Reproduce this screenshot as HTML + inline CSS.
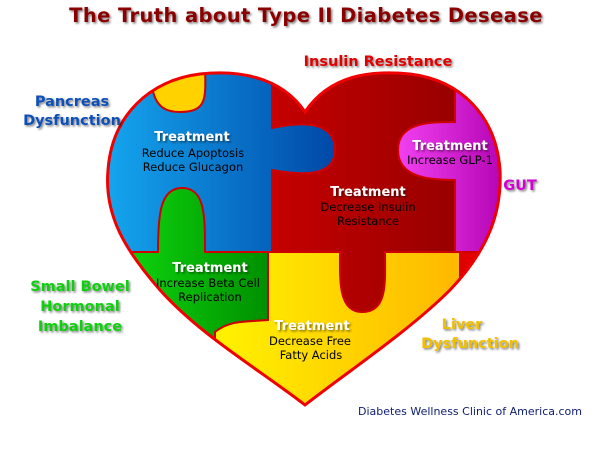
<!DOCTYPE html>
<html><head><style>
body{margin:0;width:600px;height:455px;background:#fff;overflow:hidden}
svg text{font-family:"DejaVu Sans",Verdana,sans-serif;font-weight:bold}
</style></head><body>
<svg width="600" height="455" viewBox="0 0 600 455">
<defs>
<clipPath id="h"><path id="hp" d="M305,112 C280,75 235,70 200,74 C150,80 112,115 108,170 C104,215 125,250 160,290 C200,335 260,370 305,405 C350,370 410,330 450,290 C490,248 502,210 500,170 C496,115 460,80 410,74 C370,70 330,75 305,112 Z"/></clipPath>
<linearGradient id="gb" x1="0" x2="1"><stop offset="0" stop-color="#15a8f0"/><stop offset="1" stop-color="#0048a8"/></linearGradient>
<linearGradient id="gr" x1="0" x2="1"><stop offset="0" stop-color="#f00000"/><stop offset="1" stop-color="#8a0000"/></linearGradient>
<linearGradient id="gm" x1="0" x2="1"><stop offset="0" stop-color="#f040f0"/><stop offset="1" stop-color="#b000b0"/></linearGradient>
<linearGradient id="gg" x1="0" x2="1"><stop offset="0" stop-color="#10e010"/><stop offset="1" stop-color="#009000"/></linearGradient>
<linearGradient id="gy" x1="0" x2="1"><stop offset="0" stop-color="#fff200"/><stop offset="1" stop-color="#ffb800"/></linearGradient>
<filter id="s"><feDropShadow dx="1.5" dy="1.5" stdDeviation="1" flood-color="#000" flood-opacity="0.5"/></filter>
</defs>
<g clip-path="url(#h)" stroke="#d00000" stroke-width="2">
<rect x="100" y="60" width="410" height="360" fill="url(#gr)"/>
<path d="M100,60 H272 V128 C300,122 335,120 335,150 C335,178 300,175 272,170 V252 H100 Z" fill="url(#gb)"/>
<path d="M150,60 H205 C205,95 210,112 180,112 C158,112 150,100 150,60 Z" fill="#ffd200"/>
<path d="M455,60 H510 V252 H455 V180 C430,180 398,178 398,150 C398,122 430,122 455,122 Z" fill="url(#gm)"/>
<path d="M100,252 H158 C158,215 160,188 182,188 C205,188 205,215 205,252 H268 V320 C245,322 230,320 215,332 L215,420 H100 Z" fill="url(#gg)"/>
<path d="M268,252 H340 C340,280 338,312 362,312 C388,312 385,282 385,252 H460 V420 H215 V332 C230,320 245,322 268,320 Z" fill="url(#gy)"/>
<rect x="460" y="252" width="50" height="170" fill="#e00000"/>
</g>
<use href="#hp" fill="none" stroke="#f00000" stroke-width="3"/>
<g font-size="13" fill="#fff" text-anchor="middle" filter="url(#s)">
<text x="192" y="141">Treatment</text>
<text x="450" y="150">Treatment</text>
<text x="368" y="196">Treatment</text>
<text x="210" y="272">Treatment</text>
<text x="312" y="330">Treatment</text>
</g>
<g font-size="11.5" text-anchor="middle" fill="#000">
<text x="193" y="157" style="font-weight:normal">Reduce Apoptosis</text>
<text x="193" y="171" style="font-weight:normal">Reduce Glucagon</text>
<text x="450" y="164" style="font-weight:normal">Increase GLP-1</text>
<text x="368" y="211" style="font-weight:normal">Decrease Insulin</text>
<text x="368" y="225" style="font-weight:normal">Resistance</text>
<text x="208" y="287" style="font-weight:normal">Increase Beta Cell</text>
<text x="210" y="301" style="font-weight:normal">Replication</text>
<text x="310" y="345" style="font-weight:normal">Decrease Free</text>
<text x="311" y="359" style="font-weight:normal">Fatty Acids</text>
</g>
<g filter="url(#s)">
<text x="306" y="22" font-size="19.5" fill="#8a0000" text-anchor="middle" letter-spacing="0.4">The Truth about Type II Diabetes Desease</text>
<text x="378" y="66" font-size="14.5" fill="#e00000" text-anchor="middle">Insulin Resistance</text>
<text x="72" y="106" font-size="14.5" fill="#1050b8" text-anchor="middle">Pancreas</text>
<text x="72" y="125" font-size="14.5" fill="#1050b8" text-anchor="middle">Dysfunction</text>
<text x="520" y="190" font-size="14.5" fill="#d000d0" text-anchor="middle">GUT</text>
<text x="80" y="291" font-size="14.5" fill="#10d010" text-anchor="middle">Small Bowel</text>
<text x="80" y="311" font-size="14.5" fill="#10d010" text-anchor="middle">Hormonal</text>
<text x="80" y="331" font-size="14.5" fill="#10d010" text-anchor="middle">Imbalance</text>
<text x="462" y="329" font-size="14.5" fill="#f0c000" text-anchor="middle">Liver</text>
<text x="470" y="348" font-size="14.5" fill="#f0c000" text-anchor="middle">Dysfunction</text>
</g>
<text x="470" y="415" font-size="11" fill="#102070" text-anchor="middle" style="font-weight:normal">Diabetes Wellness Clinic of America.com</text>
</svg>
</body></html>
